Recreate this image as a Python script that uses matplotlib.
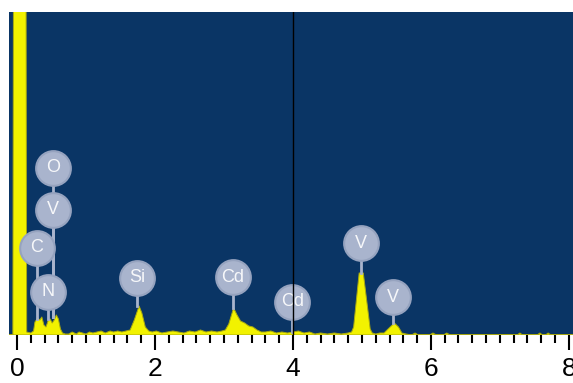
import numpy as np
import matplotlib
matplotlib.use('Agg')
import matplotlib.pyplot as plt
from matplotlib.ticker import MultipleLocator

# --- EDS spectrum (energy in keV, counts in arbitrary units) ---
energy = [-0.12, -0.06, -0.045, 0.125, 0.14, 0.20, 0.24, 0.26, 0.30, 0.33, 0.36, 0.39,
          0.42, 0.45, 0.48, 0.51, 0.54, 0.57, 0.60, 0.63, 0.66, 0.70, 0.75, 0.80,
          0.86, 0.90, 0.95, 1.00, 1.05, 1.10, 1.16, 1.22, 1.28, 1.35, 1.40, 1.46,
          1.52, 1.58, 1.64, 1.70, 1.77, 1.81, 1.86, 1.91, 1.96, 2.02, 2.10, 2.18,
          2.26, 2.34, 2.42, 2.50, 2.58, 2.66, 2.74, 2.82, 2.90, 2.97, 3.02, 3.07,
          3.14, 3.19, 3.24, 3.30, 3.36, 3.42, 3.48, 3.54, 3.60, 3.68, 3.76, 3.84,
          3.92, 4.00, 4.08, 4.16, 4.24, 4.32, 4.40, 4.50, 4.60, 4.70, 4.80, 4.85,
          4.88, 4.96, 5.02, 5.12, 5.15, 5.20, 5.26, 5.32, 5.38, 5.47, 5.53, 5.58,
          5.64, 5.72, 5.77, 5.82, 5.98, 6.03, 6.08, 6.18, 6.23, 6.28, 7.00, 7.25,
          7.29, 7.33, 7.54, 7.58, 7.62, 7.66, 7.70, 7.74, 8.10]
counts = [0, 0, 600, 600, 3, 2, 4, 13, 17, 15, 18, 10,
          8, 14, 16, 12, 15, 20, 16, 6, 2, 1, 1, 3,
          1, 3, 2, 1, 3, 2, 3, 4, 2, 4, 3, 4,
          3, 4, 5, 15, 29, 22, 8, 4, 3, 4, 2, 3,
          4, 3, 2, 4, 3, 5, 3, 4, 3, 4, 5, 11,
          27, 20, 14, 12, 9, 8, 5, 3, 3, 4, 2, 3,
          2, 3, 4, 2, 3, 1, 2, 1, 2, 1, 2, 3,
          8, 62, 62, 6, 2, 1, 2, 2, 6, 12, 8, 2,
          1, 0, 2, 0, 0, 2, 0, 0, 2, 0, 0, 0,
          2, 0, 0, 2, 0, 0, 2, 0, 0]

# --- peak identification labels ---
elements = ['O', 'V', 'C', 'N', 'Si', 'Cd', 'Cd', 'V', 'V']
line_energy = [0.52, 0.52, 0.29, 0.45, 1.74, 3.13, 3.99, 4.98, 5.45]
peak_top = [18, 18, 16, 16, 29, 27, 3, 62, 12]
label_height = [167, 125, 87, 43, 57, 58, 33, 92, 38]

tick_values = [0, 2, 4, 6, 8]
tick_labels = ['0', '2', '4', '6', '8']
cursor_energy = 4.0

fig = plt.figure(figsize=(5.73, 3.83), dpi=100)
ax = fig.add_axes([9 / 573, 48 / 383, 564 / 573, 323 / 383])
ax.set_facecolor('#0a3565')

ax.fill_between(energy, counts, 0, color='#f2f200', edgecolor='#a8a810',
                linewidth=0.7, zorder=2)

# cursor line
ax.axvline(cursor_energy, color='black', linewidth=1.0, zorder=6)

# stems, then circles with element names on top
for x, top, h in zip(line_energy, peak_top, label_height):
    ax.plot([x, x], [top, h], color='#a9b4cd', linewidth=2.0, zorder=3)
ax.plot(line_energy, label_height, 'o', markersize=25, markerfacecolor='#a9b4cd',
        markeredgecolor='#96a3bf', markeredgewidth=1.5, linestyle='none', zorder=4)
for name, x, h in zip(elements, line_energy, label_height):
    ax.text(x, h, name, color='white', alpha=0.9, fontsize=13, ha='center',
            va='center', family='Liberation Sans', zorder=5)

ax.set_xlim(-0.116, 8.06)
ax.set_ylim(0, 323)
ax.set_yticks([])
ax.set_xticks(tick_values)
ax.set_xticklabels(tick_labels, family='Liberation Sans', fontsize=19)
ax.xaxis.set_minor_locator(MultipleLocator(0.2))
ax.tick_params(axis='x', which='major', length=11, width=1.5, pad=5, color='black')
ax.tick_params(axis='x', which='minor', length=6, width=1.5, color='black')
for s in ax.spines.values():
    s.set_visible(False)

fig.savefig('out.png', dpi=100)
